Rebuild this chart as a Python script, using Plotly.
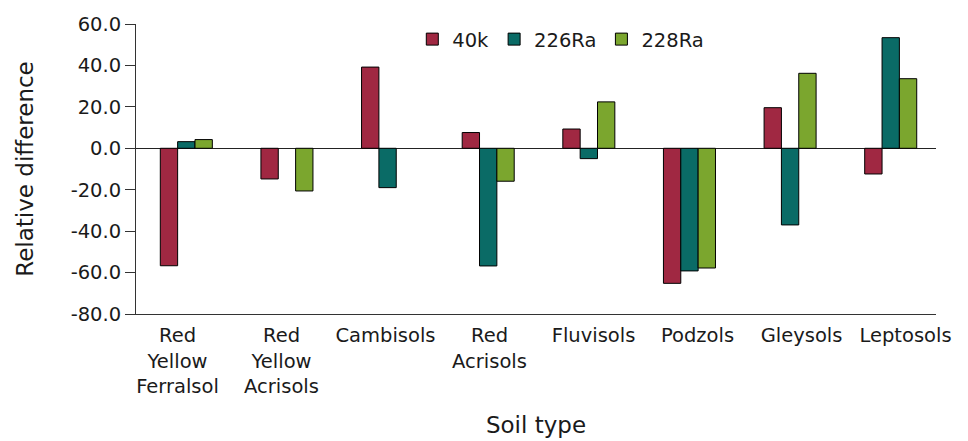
import plotly.graph_objects as go

categories = ["Red<br>Yellow<br>Ferralsol", "Red<br>Yellow<br>Acrisols", "Cambisols",
              "Red<br>Acrisols", "Fluvisols", "Podzols", "Gleysols", "Leptosols"]
k40 = [-56.7, -14.8, 39.2, 7.6, 9.3, -65.2, 19.6, -12.4]
ra226 = [3.2, None, -19.0, -56.8, -5.0, -59.2, -37.0, 53.4]
ra228 = [4.2, -20.6, None, -15.9, 22.4, -57.8, 36.2, 33.6]
y_ticks = [60, 40, 20, 0, -20, -40, -60, -80]

series = [("40k", k40, "#A02842"), ("226Ra", ra226, "#0A6B66"), ("228Ra", ra228, "#7BA62E")]

fig = go.Figure()
for name, vals, col in series:
    fig.add_trace(go.Bar(x=categories, y=vals, name=name, marker_color=col,
                         marker_line_color="#000000", marker_line_width=1))

# carrier trace (no visible marks) so the category label axis is drawn
fig.add_trace(go.Scatter(x=list(range(len(categories))), y=[None] * len(categories),
                         xaxis="x2", yaxis="y", mode="markers", showlegend=False,
                         hoverinfo="skip"))

FONT = "DejaVu Sans"
FS = 19.5
fig.update_layout(
    width=968, height=441,
    margin=dict(l=128, r=40, t=16, b=135),
    paper_bgcolor="white", plot_bgcolor="white",
    barmode="group", bargap=0.483, bargroupgap=0,
    font=dict(family=FONT, size=FS, color="#1a1a1a"),
    legend=dict(orientation="h", x=0.531, xanchor="center", y=1.014, yanchor="top",
                font=dict(size=FS), bgcolor="rgba(0,0,0,0)", itemwidth=30),
    showlegend=True,
    xaxis=dict(type="category", categoryorder="array", categoryarray=categories,
               range=[-0.5, 7.45], showline=True, linecolor="#333333", linewidth=1,
               ticks="", showticklabels=False, automargin=False),
    # label axis: same categories, label spacing as in the original figure
    xaxis2=dict(overlaying="x", anchor="y", side="bottom", range=[-0.399, 7.293],
                tickmode="array", tickvals=list(range(len(categories))), ticktext=categories,
                showline=False, showgrid=False, zeroline=False, automargin=False,
                ticks="outside", ticklen=4, tickcolor="rgba(0,0,0,0)",
                tickfont=dict(size=FS), title=dict(text="Soil type", standoff=19)),
)
fig.update_yaxes(range=[-80, 60], tickvals=y_ticks, ticktext=[f"{v:.1f}" for v in y_ticks],
                 showgrid=False, showline=True, linecolor="#333333", linewidth=1,
                 ticks="outside", ticklen=10, tickcolor="#333333", automargin=False,
                 zeroline=True, zerolinecolor="#222222", zerolinewidth=1,
                 title=dict(text="Relative difference", standoff=30), tickfont=dict(size=FS))

fig.write_html("out.html")
